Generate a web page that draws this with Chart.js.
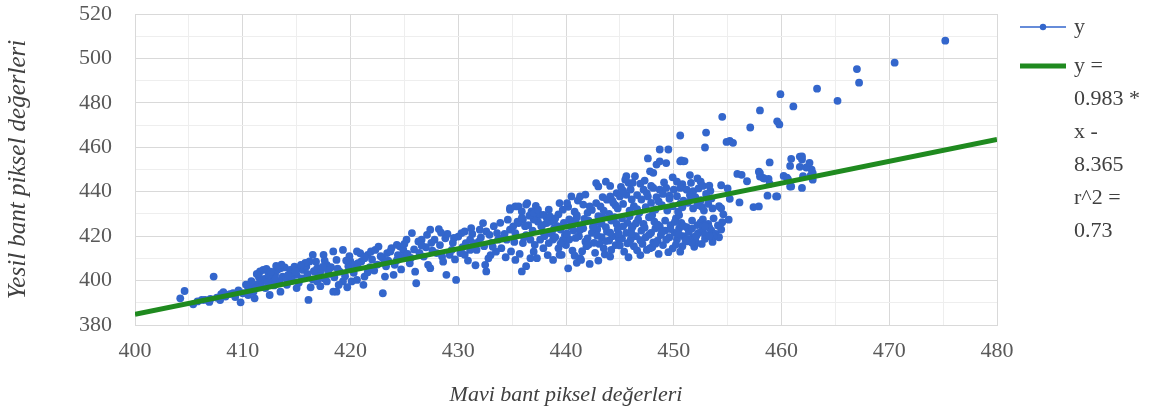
<!DOCTYPE html>
<html>
<head>
<meta charset="utf-8">
<script src="https://cdn.jsdelivr.net/npm/chart.js@4/dist/chart.umd.min.js"></script>
<style>
  html, body { margin: 0; padding: 0; background: #ffffff; }
  #wrap { width: 1156px; height: 414px; }
</style>
</head>
<body>
<div id="wrap"><canvas id="chart" width="1156" height="414"></canvas></div>
<script>
// Pixel pairs [mavi, yeşil] grouped by region of the cloud
const lowerTail = [
  [404.2,392.0],[404.6,395.3],[405.4,389.3],[406.2,391.3],[406.5,391.3],[407.0,391.7],[407.3,401.8],
  [407.6,392.3],[408.0,393.9],[408.4,392.8],[408.8,393.9],[409.1,394.3],[409.8,390.2],[410.0,394.3],
  [410.5,393.5],[411.0,395.0],[411.2,396.6],[411.4,398.4],[411.6,404.1],[411.9,404.8],[412.2,405.3],
  [411.8,399.9],[412.1,396.6],[412.5,398.1],[412.8,400.3],[413.2,404.8],[413.5,405.5],[413.7,401.8],
  [413.9,405.9],[414.4,404.8],[414.8,406.3],[415.0,402.6],[415.3,405.5],[415.6,404.8],[415.9,406.3],
  [416.2,408.6],[416.5,411.6],[416.9,405.5],[417.2,404.1],[417.5,411.6],[417.8,407.1],[418.4,413.1],
  [418.7,409.3],[419.3,413.8],[420.0,408.6],[420.1,399.6],[418.7,395.0],[416.1,391.3],[414.1,398.1],
  [415.0,396.6],[416.9,399.6],[417.8,399.6],[418.4,395.0],[419.3,399.6],[411.1,392.0],[412.5,393.5],
  [413.5,395.0],[413.0,403.0],[414.0,401.0],[414.5,403.0],[415.5,401.0],[416.0,403.0],[416.5,400.5],
  [417.0,402.0],[417.5,401.0],[418.0,403.0],[418.5,401.5],[419.0,404.0],[419.5,402.0],[415.2,399.0],
  [413.4,399.5],[412.9,397.8],[416.3,397.0],[417.2,397.5],[418.9,398.0],[419.7,397.0],[420.3,403.5],
  [419.8,406.5],[418.2,406.0],[417.6,409.0],[416.8,408.5],[415.8,408.0],[414.6,400.0],[413.0,401.5],
  [412.0,400.8],[411.5,401.5],[410.9,397.5],[410.5,396.8],[409.6,395.6],[410.8,399.7],[412.4,402.5],
  [417.9,404.5],[419.9,411.0]
];

const lowerCore = [
  [410.3,398.2],[411.3,403.0],[412.6,404.0],[413.6,407.2],[414.2,402.4],[415.4,407.0],[416.6,404.2],
  [417.4,406.2],[418.8,405.4],[419.6,409.0],[414.9,404.0],[413.1,406.6],[412.3,399.4],[411.7,397.2],
  [409.3,392.6],[408.2,394.8],[407.9,391.2],[406.9,390.4],[405.8,390.6]
];

const middleBand = [
  [420.6,413.1],[420.9,412.3],[420.4,407.1],[420.7,407.8],[421.0,408.6],[421.3,410.1],[421.6,411.6],
  [421.9,413.1],[422.3,413.8],[422.6,415.3],[421.3,401.8],[421.2,398.1],[420.6,400.3],[423.0,410.1],
  [423.4,412.4],[423.7,413.1],[423.8,414.6],[424.3,416.1],[424.6,415.3],[424.9,413.8],[423.2,401.8],
  [424.0,402.6],[424.1,407.1],[423.0,394.3],[425.2,418.4],[425.7,421.4],[426.3,417.6],[426.6,418.4],
  [427.1,420.6],[427.4,422.9],[427.8,418.4],[428.2,423.2],[424.9,410.8],[425.5,407.8],[426.1,398.8],
  [426.8,410.8],[427.2,407.1],[427.4,405.6],[428.0,412.4],[428.5,410.8],[428.9,402.6],[429.2,411.6],
  [429.4,413.8],[429.8,400.3],[430.0,419.8],[430.3,421.4],[430.6,422.1],[430.7,416.9],[431.1,418.4],
  [431.4,416.9],[431.7,413.8],[430.2,412.4],[430.6,411.6],[431.1,413.8],[431.6,406.9],[432.6,404.1],
  [432.5,407.1],[432.0,422.9],[432.3,425.9],[432.6,422.1],[432.9,420.6],[433.6,421.4],[433.7,418.4],
  [434.0,414.6],[434.5,418.4],[434.8,422.9],[435.1,424.4],[435.3,421.4],[435.6,425.9],[434.6,427.4],
  [434.8,432.6],[435.6,433.4],[435.9,431.1],[436.3,434.2],[436.8,431.1],[437.3,428.9],[437.6,429.6],
  [437.7,424.4],[438.2,425.9],[438.5,421.4],[434.9,413.1],[435.3,409.3],[435.9,404.1],[436.7,410.1],
  [437.3,410.1],[436.0,416.9],[436.7,418.4],[437.1,416.1],[437.6,418.4],[437.9,414.6],[438.4,416.9],
  [422.0,409.5],[422.8,411.0],[423.5,409.0],[424.4,411.5],[425.0,416.5],[425.9,414.0],[426.4,412.5],
  [427.0,415.0],[427.6,413.5],[428.3,416.0],[428.8,419.0],[429.5,417.0],[429.0,421.0],[426.0,404.0],
  [425.3,412.0],[424.7,405.0],[422.2,404.5],[421.8,406.0],[428.6,408.5],[429.7,409.5],[430.9,409.0],
  [431.3,421.0],[431.9,417.5],[432.4,415.5],[433.1,417.0],[433.3,424.5],[433.9,426.0],[434.3,421.0],
  [433.0,411.5],[433.5,413.0],[432.8,410.0],[434.4,410.5],[435.7,412.0],[436.3,420.5],[436.9,422.5],
  [437.4,426.5],[438.0,420.0],[436.0,427.5],[436.5,425.0],[437.0,413.0],[438.3,411.5],[438.8,418.5],
  [438.9,423.5],[421.3,410.5]
];

const denseLower = [
  [435.5,426.5],[436.2,424.5],[437.0,427.5],[437.8,425.0],[438.6,426.5],[439.2,424.5],[439.8,426.0],
  [440.4,424.5],[440.9,426.5],[441.5,425.0],[442.1,427.0],[442.6,425.0],[443.1,426.5],[443.7,424.0],
  [444.2,427.0],[444.7,425.5],[445.2,428.0],[445.7,426.0],[446.2,424.5],[446.7,427.5],[447.2,425.5],
  [447.7,428.5],[448.2,426.5],[448.7,424.5],[449.2,427.0],[449.7,425.0],[450.2,428.0],[450.7,426.0],
  [451.2,424.0],[451.7,427.0],[452.2,425.0],[452.7,427.5],[453.2,425.5],[453.7,428.0],[441.0,428.5],
  [443.4,428.5],[445.9,429.0],[448.0,429.5],[450.5,429.5],
  [438.7,422.0],[439.0,419.5],[439.5,423.0],[439.9,420.5],[440.3,418.5],[440.7,422.5],[441.2,420.0],
  [441.6,423.5],[442.0,419.0],[442.4,421.5],[442.9,423.0],[443.3,419.5],[443.8,422.0],[444.3,420.0],
  [444.8,423.0],[445.2,419.0],[445.6,421.5],[446.1,423.5],[446.5,420.0],[447.0,422.5],[447.4,419.5],
  [447.9,421.5],[448.3,423.5],[448.8,420.5],[449.2,422.5],[449.6,419.5],[450.1,421.5],[450.5,423.5],
  [450.9,420.0],[451.4,422.0],[451.8,419.5],[452.3,421.5],[452.7,423.0],[453.1,420.5],[453.5,422.5],
  [453.9,421.0],[454.2,419.5],[454.4,423.0],[444.0,418.0],[446.0,418.5],[448.5,418.0],[450.3,418.5],
  [452.0,418.0],[441.8,417.5],[443.1,416.5],[440.0,416.0],
  [438.8,409.3],[439.6,411.6],[441.3,410.1],[444.1,410.8],[447.5,413.8],[451.2,417.6],[439.3,414.5],
  [440.6,413.5],[441.9,415.5],[442.7,412.5],[443.5,414.5],[444.6,416.0],[445.4,413.0],[446.3,415.5],
  [447.1,416.5],[448.0,415.0],[449.0,416.0],[449.9,414.5],[450.8,415.5],[452.6,416.5],[445.8,410.5],
  [443.0,409.0],[442.2,407.5],[440.2,405.5],[441.0,408.0],[446.9,411.5],[448.6,412.0],[450.6,413.0],
  [436.3,406.5],[441.4,409.3],[444.2,413.8],[447.8,414.6],[451.5,418.4],[452.1,416.9],[452.9,420.6],
  [439.4,411.6]
];

const denseCore = [
  [438.9,427.2],[439.3,429.8],[439.7,418.2],[440.1,421.2],[440.5,426.8],[440.9,419.2],[441.3,422.8],
  [441.7,427.8],[442.1,416.2],[442.5,424.2],[442.9,420.2],[443.3,425.6],[443.7,417.8],[444.1,421.6],
  [444.5,428.6],[444.9,418.6],[445.3,424.4],[445.7,416.8],[446.1,421.0],[446.5,425.8],[446.9,418.2],
  [447.3,423.8],[447.7,420.6],[448.1,417.2],[448.5,425.2],[448.9,422.0],[449.3,418.4],[449.7,423.2],
  [450.1,426.4],[450.5,420.8],[450.9,424.6],[451.3,418.8],[451.7,423.4],[452.1,420.2],[452.5,426.2],
  [452.9,418.8],[453.3,423.8],[453.7,419.8],[454.1,424.8],
  [440.2,433.2],[441.1,436.0],[442.4,431.8],[443.4,437.6],[444.6,433.8],[445.6,438.6],[446.6,432.2],
  [447.6,437.8],[448.6,435.6],[449.6,438.2],[450.6,434.6],[451.6,436.8],[452.6,433.2],[453.4,440.4],
  [447.9,442.6],[449.1,444.2],[450.8,443.4],[446.9,443.6],[445.1,442.2],
  [439.5,416.6],[441.5,413.2],[443.6,411.8],[445.0,415.8],[446.6,413.6],[448.3,416.6],[449.5,412.8],
  [450.2,416.2],[451.9,415.2],[453.6,417.4],[440.8,411.2],[442.6,417.0],[444.9,421.0],[437.9,421.8],
  [438.2,428.4],[436.6,429.2],[435.9,428.2],[437.2,433.6],[436.1,419.4],[435.2,417.4],[434.1,419.0],
  [433.2,415.2],[432.1,419.4],[431.2,423.6],[430.4,415.0],[429.6,419.2],[428.4,421.6],[427.5,417.0],
  [426.6,415.8],[425.6,410.2],[424.3,409.2],[423.3,406.4],[422.5,407.2],[421.6,403.8]
];

const denseUpper = [
  [442.8,443.9],[443.0,442.4],[445.6,447.0],[445.8,444.0],[445.5,445.4],[446.2,444.0],[446.4,447.0],
  [447.8,449.2],[448.1,448.5],[448.4,452.2],[448.7,453.7],[449.3,452.9],[450.6,453.7],[450.9,453.7],
  [451.5,447.5],[452.2,446.0],[449.9,446.5],[450.3,444.5],[451.6,444.0],[452.5,444.5],[447.3,445.0],
  [444.1,442.6],[443.7,444.5],
  [441.3,437.9],[441.8,438.7],[441.6,434.2],[443.8,436.4],[444.1,437.9],[444.4,434.9],[444.7,439.4],
  [445.0,437.9],[447.2,440.9],[447.5,439.4],[448.1,441.7],[448.7,440.9],[449.3,441.7],[450.0,440.9],
  [450.6,441.7],[451.2,440.9],[451.8,440.2],[452.3,441.5],[452.7,442.6],[453.3,442.7],[446.0,441.0],
  [446.6,438.5],[445.3,440.5],[449.0,439.0],[450.3,438.0],[451.5,438.5],[452.0,437.5],[453.0,439.0],
  [448.4,437.5],[447.0,436.5],[449.6,436.8],[450.9,436.0],[452.5,436.2],[453.5,437.0],
  [439.4,434.9],[439.7,431.9],[440.1,434.9],[440.5,437.9],[442.2,433.4],[442.8,434.9],[443.2,433.4],
  [434.8,431.9],[435.3,433.4],[436.4,434.9],[437.0,430.4],[437.4,431.9],[437.9,429.6],[438.4,431.9],
  [438.5,428.9],[440.8,431.0],[441.0,429.5],[442.0,430.5],[443.5,431.5],[444.0,430.0],[444.8,432.5],
  [445.3,434.5],[445.9,431.5],[446.3,433.5],[446.8,430.5],[447.4,433.0],[447.9,435.0],[448.3,432.0],
  [448.9,434.0],[449.4,431.5],[449.9,433.5],[450.4,431.0],[450.8,433.0],[451.3,435.0],[451.8,432.5],
  [452.2,434.0],[452.8,431.5],[453.2,434.5],[453.6,432.5],[446.1,436.5],[444.3,436.0],[443.0,429.0],
  [439.0,428.0],[440.3,427.5]
];

const rightCluster = [
  [460.9,454.8],[461.7,455.8],[461.9,454.5],[461.7,451.2],[462.5,451.2],[462.8,449.9],[462.7,447.2],
  [460.8,451.6],[455.9,448.0],[456.3,447.6],[456.8,444.7],[457.9,449.0],[458.0,446.8],[458.4,445.9],
  [458.8,445.8],[460.2,447.1],[460.5,446.3],[460.8,442.3],[461.9,441.7],[458.7,438.2],[459.5,437.9],
  [457.4,433.1],[457.9,433.4],[456.1,435.2],[455.2,436.8],[455.0,441.5],[454.4,442.9],[454.2,433.5],
  [454.4,432.6],[454.6,429.8],[455.1,427.4],[454.5,426.3],[453.3,420.0],[451.1,418.0],[451.7,417.0],
  [452.7,424.7],[452.9,424.4],[461.9,455.9],[462.3,450.9],[462.6,453.0],[462.9,448.4],[462.0,447.0],
  [462.9,445.4],[460.6,445.7],[460.9,442.4],[458.9,443.6],[459.6,437.9],[458.0,448.4],[458.3,446.2]
];

const highGroup = [
  [475.2,508.0],[470.5,498.1],[467.0,495.2],[467.2,489.1],[463.3,486.4],[465.2,480.9],[461.1,478.4],
  [459.9,483.9],[459.6,471.7],[459.8,470.3],[458.0,476.6],[458.9,453.2],[454.5,473.7],[457.1,468.9],
  [453.0,466.6],[452.9,459.9],[454.9,462.4],[455.2,462.9],[455.5,462.0],[450.6,465.3],[450.7,454.1],
  [451.0,453.8],[448.7,459.0],[449.5,459.0],[447.6,455.0]
];

// Least-squares fit reported in the legend
const slope = 0.983;
const intercept = -8.365;
const rSquared = 0.73;
const xRange = [400, 480];
const yRange = [380, 520];
const fitLegendLines = ['y =', '0.983 *', 'x -', '8.365', 'r^2 =', '0.73'];

const SERIF = '"Liberation Serif", "Times New Roman", "DejaVu Serif", serif';
const BLUE = '#3366cc';
const GREEN = '#1f8a1f';

const scatterPoints = [].concat(lowerTail, lowerCore, middleBand, denseLower, denseCore,
  denseUpper, rightCluster, highGroup).map(([x, y]) => ({ x, y }));
const fitPoints = xRange.map(x => ({ x, y: slope * x + intercept }));

// Legend drawn to the right of the plot, with the fit equation wrapped over several lines
const sideLegend = {
  id: 'sideLegend',
  afterDraw(chart) {
    const ctx = chart.ctx;
    ctx.save();
    // scatter series sample
    ctx.strokeStyle = BLUE;
    ctx.lineWidth = 1.5;
    ctx.beginPath();
    ctx.moveTo(1020, 27);
    ctx.lineTo(1066, 27);
    ctx.stroke();
    ctx.fillStyle = BLUE;
    ctx.beginPath();
    ctx.arc(1043, 27, 3.2, 0, Math.PI * 2);
    ctx.fill();
    // fit line sample
    ctx.strokeStyle = GREEN;
    ctx.lineWidth = 5;
    ctx.beginPath();
    ctx.moveTo(1020, 66);
    ctx.lineTo(1066, 66);
    ctx.stroke();
    // labels
    ctx.fillStyle = '#404040';
    ctx.font = '22px ' + SERIF;
    ctx.textBaseline = 'middle';
    ctx.textAlign = 'left';
    ctx.fillText('y', 1074, 27);
    fitLegendLines.forEach((line, i) => {
      ctx.fillText(line, 1074, 66 + i * 33);
    });
    ctx.restore();
  }
};

new Chart(document.getElementById('chart'), {
  type: 'scatter',
  data: {
    datasets: [
      {
        label: 'y = ' + slope + ' * x - ' + Math.abs(intercept) + ' r^2 = ' + rSquared,
        data: fitPoints,
        showLine: true,
        borderColor: GREEN,
        backgroundColor: GREEN,
        borderWidth: 5,
        pointRadius: 0,
        fill: false,
        order: 0
      },
      {
        label: 'y',
        data: scatterPoints,
        showLine: false,
        backgroundColor: BLUE,
        borderColor: BLUE,
        borderWidth: 0,
        pointRadius: 3.9,
        order: 1
      }
    ]
  },
  options: {
    responsive: false,
    animation: false,
    devicePixelRatio: 1,
    layout: { padding: { left: 0, right: 159, top: 14, bottom: 0 } },
    plugins: {
      legend: { display: false },
      tooltip: { enabled: false }
    },
    scales: {
      x: {
        type: 'linear',
        min: xRange[0],
        max: xRange[1],
        afterFit: s => { s.height = 89; s.paddingLeft = 0; s.paddingRight = 0; },
        ticks: {
          stepSize: 5,
          autoSkip: false,
          maxRotation: 0,
          padding: 13,
          color: '#595959',
          font: { family: SERIF, size: 22 },
          callback: v => (v % 10 === 0 ? String(v) : '')
        },
        grid: {
          drawTicks: false,
          color: c => (c.tick && c.tick.value % 10 === 0 ? '#d9d9d9' : '#eeeeee'),
          lineWidth: 1
        },
        border: { display: true, color: '#d9d9d9' },
        title: {
          display: true,
          text: 'Mavi bant piksel değerleri',
          color: '#404040',
          font: { family: SERIF, size: 22, style: 'italic' },
          padding: { top: 0, bottom: 6 }
        }
      },
      y: {
        type: 'linear',
        min: yRange[0],
        max: yRange[1],
        afterFit: s => { s.width = 135; s.paddingTop = 0; s.paddingBottom = 0; },
        ticks: {
          stepSize: 10,
          autoSkip: false,
          padding: 23,
          color: '#595959',
          font: { family: SERIF, size: 22 },
          callback: v => (v % 20 === 0 ? String(v) : '')
        },
        grid: {
          drawTicks: false,
          color: c => (c.tick && c.tick.value % 20 === 0 ? '#d9d9d9' : '#eeeeee'),
          lineWidth: 1
        },
        border: { display: true, color: '#d9d9d9' },
        title: {
          display: true,
          text: 'Yesil bant piksel değerleri',
          color: '#404040',
          font: { family: SERIF, size: 25, style: 'italic' },
          padding: { top: 3, bottom: 0 }
        }
      }
    }
  },
  plugins: [sideLegend]
});
</script>
</body>
</html>
